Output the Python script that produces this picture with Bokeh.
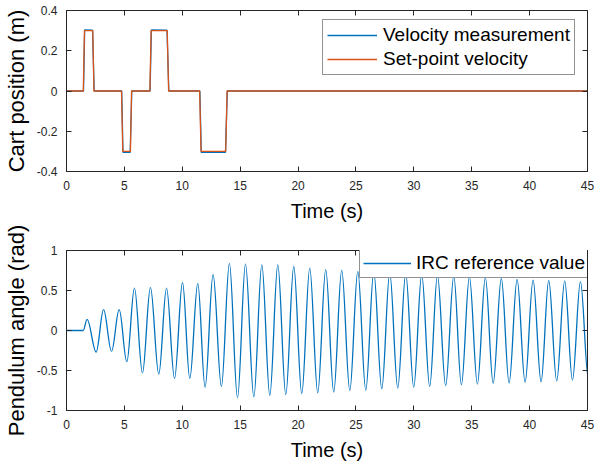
import math
from bokeh.plotting import figure
from bokeh.models import Range1d, LinearAxis, FixedTicker, Legend, LegendItem, ColumnDataSource
from bokeh.layouts import column
from bokeh.embed import file_html
from bokeh.resources import INLINE

# ---------------- data ----------------
x_ticks = [0, 5, 10, 15, 20, 25, 30, 35, 40, 45]
pos_ticks = [-0.4, -0.2, 0, 0.2, 0.4]
pos_tick_labels = ["-0.4", "-0.2", "0", "0.2", "0.4"]
ang_ticks = [-1, -0.5, 0, 0.5, 1]
ang_tick_labels = ["-1", "-0.5", "0", "0.5", "1"]

# set-point velocity (breakpoints)
set_t = [0, 1.45, 1.55, 2.27, 2.37, 4.75, 4.86, 5.52, 5.62, 7.20, 7.31, 8.70, 8.82,
         11.50, 11.62, 13.75, 13.87, 45]
set_v = [0, 0, 0.30, 0.30, 0, 0, -0.30, -0.30, 0, 0, 0.30, 0.30, 0, 0,
         -0.30, -0.30, 0, 0]

# velocity measurement (breakpoints)
meas_t = [0, 1.47, 1.57, 2.25, 2.39, 4.77, 4.88, 5.50, 5.64, 7.22, 7.33, 8.68, 8.84,
          11.52, 11.64, 13.73, 13.89, 45]
meas_v = [0, 0, 0.304, 0.302, 0, 0, -0.305, -0.305, 0, 0, 0.303, 0.302, 0, 0,
          -0.305, -0.305, 0, 0]

# pendulum angle: successive extrema (time, value)
angle_t = [0, 1.44, 1.78, 2.56, 3.20, 3.89, 4.55, 5.21, 5.87, 6.56, 7.25, 7.97, 8.64,
           9.33, 10.02, 10.65, 11.34, 11.97, 12.66, 13.38, 14.07, 14.77, 15.46, 16.18,
           16.87, 17.56, 18.25, 18.94, 19.63, 20.32, 21.01, 21.70, 22.39, 23.08, 23.77,
           24.47, 25.16, 25.85, 26.54, 27.23, 27.92, 28.61, 29.30, 29.99, 30.68, 31.37,
           32.04, 32.75, 33.45, 34.11, 34.80, 35.49, 36.18, 36.85, 37.56, 38.23, 38.92,
           39.61, 40.30, 40.99, 41.65, 42.34, 43.03, 43.70, 44.39, 45.08]
angle_v = [0, 0, 0.14, -0.27, 0.26, -0.26, 0.26, -0.39, 0.53, -0.53, 0.54, -0.545, 0.53,
           -0.60, 0.60, -0.60, 0.59, -0.71, 0.70, -0.70, 0.84, -0.84, 0.83, -0.83,
           0.82, -0.81, 0.82, -0.80, 0.80, -0.79, 0.78, -0.78, 0.76, -0.77, 0.755,
           -0.75, 0.74, -0.745, 0.73, -0.73, 0.72, -0.72, 0.71, -0.71, 0.70, -0.70,
           0.69, -0.69, 0.68, -0.68, 0.67, -0.67, 0.66, -0.66, 0.65, -0.655, 0.64,
           -0.645, 0.63, -0.64, 0.625, -0.63, 0.62, -0.62, 0.61, -0.61]

# ---------------- style ----------------
FONT = "Liberation Sans"
INK = "#262626"
BLUE = "#0072BD"
ORANGE = "#D95319"


def mirror_axis(ticks):
    return LinearAxis(ticker=FixedTicker(ticks=ticks),
                      major_label_overrides={t: "" for t in ticks},
                      major_label_text_font_size="1px",
                      major_label_standoff=0, major_tick_in=5, major_tick_out=0,
                      minor_tick_line_color=None, axis_line_color=INK,
                      major_tick_line_color=INK)


def style(p, yticks, ylabels, ylabel):
    p.outline_line_color = INK
    p.outline_line_width = 1
    p.xgrid.visible = False
    p.ygrid.visible = False
    p.background_fill_color = "white"
    p.border_fill_color = "white"
    for ax in p.xaxis:
        ax.ticker = FixedTicker(ticks=x_ticks)
        ax.axis_label = "Time (s)"
    for ax in p.yaxis:
        ax.ticker = FixedTicker(ticks=yticks)
        ax.major_label_overrides = {t: l for t, l in zip(yticks, ylabels)}
        ax.axis_label = ylabel
    for ax in p.xaxis + p.yaxis:
        ax.axis_line_color = INK
        ax.major_tick_line_color = INK
        ax.major_tick_in = 5
        ax.major_tick_out = 0
        ax.minor_tick_line_color = None
        ax.major_label_text_font = FONT
        ax.major_label_text_font_size = "12px"
        ax.major_label_text_color = INK
        ax.axis_label_text_font = FONT
        ax.axis_label_text_font_style = "normal"
        ax.axis_label_text_color = "#000000"
    p.xaxis.major_label_standoff = 9
    p.xaxis.axis_label_standoff = 7
    p.xaxis.axis_label_text_font_size = "20px"
    p.yaxis.major_label_standoff = 9
    p.yaxis.axis_label_standoff = 5
    p.yaxis.axis_label_text_font_size = "22px"
    # mirrored ticks on top and right (box style)
    p.add_layout(mirror_axis(x_ticks), "above")
    p.add_layout(mirror_axis(yticks), "right")


# ---------------- top: cart ----------------
p1 = figure(width=597, height=226, x_range=Range1d(0, 45), y_range=Range1d(-0.4, 0.4),
            output_backend="svg", toolbar_location=None,
            min_border_left=66, min_border_right=10, min_border_top=10, min_border_bottom=55)
style(p1, pos_ticks, pos_tick_labels, "Cart position (m)")
r_meas = p1.line(meas_t, meas_v, line_color=BLUE, line_width=1.3)
r_set = p1.line(set_t, set_v, line_color=ORANGE, line_width=1.3)
leg1 = Legend(items=[LegendItem(label="Velocity measurement", renderers=[r_meas]),
                     LegendItem(label="Set-point velocity", renderers=[r_set])],
              location=(256, 96), margin=0, padding=4, spacing=2,
              glyph_width=50, glyph_height=20, label_height=20, label_standoff=6,
              label_text_font=FONT, label_text_font_size="19px", label_text_color="#000000",
              border_line_color=INK, border_line_width=1, background_fill_alpha=1)
p1.add_layout(leg1, "center")

# ---------------- bottom: pendulum ----------------
p2 = figure(width=597, height=240, x_range=Range1d(0, 45), y_range=Range1d(-1, 1),
            output_backend="svg", toolbar_location=None,
            min_border_left=66, min_border_right=10, min_border_top=24, min_border_bottom=56)
style(p2, ang_ticks, ang_tick_labels, "Pendulum angle (rad)")
k = 1 - 2 / math.pi
x0 = angle_t[:-1]
x1 = angle_t[1:]
src = ColumnDataSource(dict(
    x0=x0, y0=angle_v[:-1], x1=x1, y1=angle_v[1:],
    cx0=[a + k * (b - a) for a, b in zip(x0, x1)], cy0=angle_v[:-1],
    cx1=[b - k * (b - a) for a, b in zip(x0, x1)], cy1=angle_v[1:]))
r_ang = p2.bezier(x0="x0", y0="y0", x1="x1", y1="y1", cx0="cx0", cy0="cy0",
                  cx1="cx1", cy1="cy1", source=src, line_color=BLUE, line_width=1.3)
leg2 = Legend(items=[LegendItem(label="IRC reference value", renderers=[r_ang])],
              location=(293, 132), margin=0, padding=3, spacing=0,
              glyph_width=48, glyph_height=20, label_height=20, label_standoff=5,
              label_text_font=FONT, label_text_font_size="19px", label_text_color="#000000",
              border_line_color=INK, border_line_width=1, background_fill_alpha=1)
p2.add_layout(leg2, "center")

layout = column(p1, p2, spacing=0)
open("out.html", "w").write(file_html(layout, INLINE))
